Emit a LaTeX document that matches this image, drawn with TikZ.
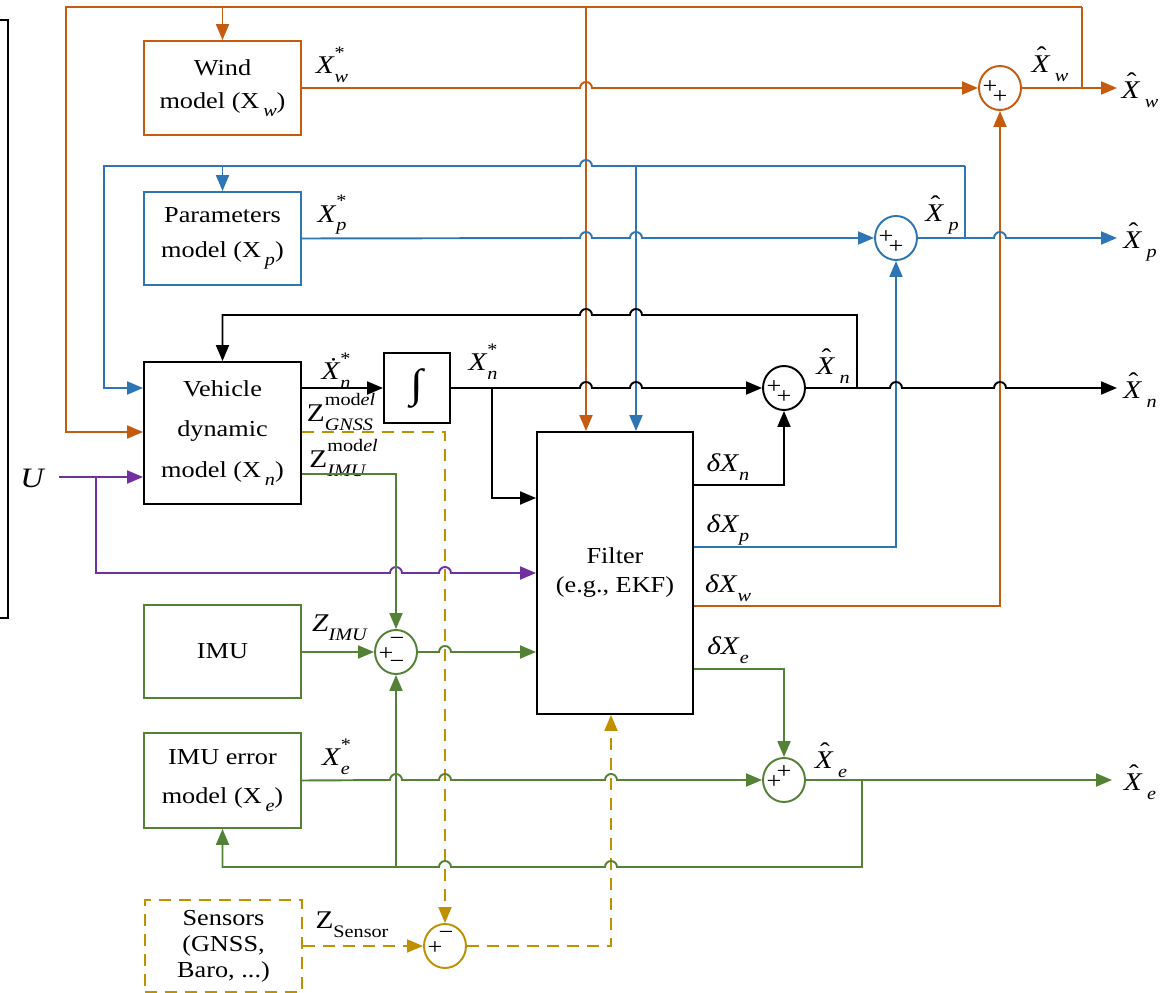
\documentclass[tikz,border=0pt]{standalone}
\usepackage{fontspec}
\setmainfont{Liberation Serif}[FakeStretch=1.15]
\usetikzlibrary{arrows.meta,shapes.geometric,calc}
\definecolor{cor}{HTML}{C55A11}
\definecolor{cbl}{HTML}{2E75B6}
\definecolor{cgr}{HTML}{538135}
\definecolor{cpu}{HTML}{7030A0}
\definecolor{cgo}{HTML}{BF9000}
\newcommand{\hr}[2]{-- ({#1-6},#2) arc[start angle=180,end angle=360,radius=6]}
\newcommand{\hl}[2]{-- ({#1+6},#2) arc[start angle=0,end angle=-180,radius=6]}
\newcommand{\ssz}{\fontsize{10}{10}\selectfont}
\newcommand{\lowsub}[1]{\raisebox{-0.35em}{\ssz #1}}
\newcommand{\sx}[3]{#1\raisebox{-0.35em}{\makebox[0pt][l]{\raisebox{0.95em}{\ssz #2}}\ssz #3}}
\newcommand{\bsub}[1]{\,\raisebox{-0.35em}{\ssz\textit{#1}}}
\newcommand{\hX}{\makebox[0pt][l]{\hspace{0.2em}\raisebox{0.32em}{ˆ}}\textit{X}}
\tikzset{
  ln/.style={line width=1.1pt},
  arr/.style={-{Triangle[length=0.32cm,width=0.26cm]}},
  sor/.style={ln,draw=cor},
  sbl/.style={ln,draw=cbl},
  sgr/.style={ln,draw=cgr},
  spu/.style={ln,draw=cpu},
  sgo/.style={ln,draw=cgo,dash pattern=on 0.24cm off 0.16cm},
  sbk/.style={ln,draw=black},
  box/.style={draw,ln,minimum width=3.14cm,align=center,inner sep=0pt},
  sumn/.style={draw,ln,ellipse,minimum width=0.84cm,minimum height=0.88cm,inner sep=0pt},
  lab/.style={inner sep=0pt,font=\fontsize{14.5}{16}\selectfont},
  sgn/.style={inner sep=0pt,font=\fontsize{13}{13}\selectfont},
}
\begin{document}
\begin{tikzpicture}[x=0.02cm,y=-0.02cm]
\useasboundingbox (0,0) rectangle (1166,993);
% ---------- boxes
\node[box,draw=cor,minimum height=1.88cm,font=\fontsize{13}{19}\selectfont] (wind) at (222.5,88) {Wind\\model (X\bsub{w})};
\node[box,draw=cbl,minimum height=1.86cm,font=\fontsize{13}{20}\selectfont] (params) at (222.5,238.5) {Parameters\\model (X\bsub{p})};
\node[box,draw=black,minimum height=2.84cm,font=\fontsize{13}{23}\selectfont] (vehicle) at (222.5,433) {Vehicle\\dynamic\\model (X\bsub{n})};
\node[box,draw=black,minimum width=1.32cm,minimum height=1.4cm,font=\fontsize{23}{23}\selectfont] (integ) at (417,388) {∫};
\node[box,draw=black,minimum width=3.12cm,minimum height=5.64cm,font=\fontsize{13}{16.5}\selectfont] (filter) at (615,573) {Filter\\(e.g., EKF)};
\node[box,draw=cgr,minimum height=1.86cm,font=\fontsize{13}{15}\selectfont] (imu) at (222.5,651.5) {IMU};
\node[box,draw=cgr,minimum height=1.9cm,font=\fontsize{13}{22.5}\selectfont] (imuerr) at (222.5,780.5) {IMU error\\model (X\bsub{e})};
\node[box,draw=cgo,dash pattern=on 0.24cm off 0.16cm,minimum height=1.84cm,font=\fontsize{13}{14.8}\selectfont] (sensors) at (223.5,946) {Sensors\\(GNSS,\\Baro, ...)};
% ---------- summing junctions
\node[sumn,draw=cor] (sw) at (1000,88) {};
\node[sumn,draw=cbl] (sp) at (896,238) {};
\node[sumn,draw=black] (sn) at (784,388) {};
\node[sumn,draw=cgr] (se) at (784,780) {};
\node[sumn,draw=cgr] (simu) at (396,652) {};
\node[sumn,draw=cgo] (ssen) at (445,946) {};
\node[sgn] (sw1) at ($(sw)+(-10,-1)$) {+};
\node[sgn] (sw2) at ($(sw)+(0,9)$) {+};
\node[sgn] (sp1) at ($(sp)+(-10,-1)$) {+};
\node[sgn] (sp2) at ($(sp)+(0,9)$) {+};
\node[sgn] (sn1) at ($(sn)+(-10,-1)$) {+};
\node[sgn] (sn2) at ($(sn)+(0,9)$) {+};
\node[sgn] (se1) at ($(se)+(-10,2)$) {+};
\node[sgn] (se2) at ($(se)+(0,-8)$) {+};
\node[sgn] (si1) at ($(simu)+(-10,2)$) {+};
\node[sgn] (si2) at ($(simu)+(1,-11)$) {−};
\node[sgn] (si3) at ($(simu)+(1,12)$) {−};
\node[sgn] (ss1) at ($(ssen)+(-10,2)$) {+};
\node[sgn] (ss2) at ($(ssen)+(1,-11)$) {−};
% ---------- labels
\node[lab] (lXw) at (332,65) {\sx{\textit{X}}{*}{\textit{w}}};
\node[lab] (lXp) at (332,215) {\sx{\textit{X}}{*}{\textit{p}}};
\node[lab] (lXnd) at (336,371) {\sx{\textit{Ẋ}}{*}{\textit{n}}};
\node[lab] (lZG) at (340,412) {\sx{Z}{mod\textit{el}}{\textit{GNSS}}};
\node[lab] (lZI) at (338,458) {\sx{Z}{mod\textit{el}}{\textit{IMU}}};
\node[lab] (lXn) at (483,362) {\sx{\textit{X}}{*}{\textit{n}}};
\node[lab] (lZimu) at (340,628) {\textit{Z}\lowsub{\textit{IMU}}};
\node[lab] (lXe) at (336,757) {\sx{\textit{X}}{*}{\textit{e}}};
\node[lab] (lZs) at (352,925) {Z\lowsub{Sensor}};
\node[lab] (hXw) at (1050,64) {\hX\,\lowsub{\textit{w}}};
\node[lab] (hXp) at (942,215) {\hX\,\lowsub{\textit{p}}};
\node[lab] (hXn) at (833,366) {\hX\,\lowsub{\textit{n}}};
\node[lab] (hXe) at (831,760) {\hX\,\lowsub{\textit{e}}};
\node[lab] (oXw) at (1140,90) {\hX\,\lowsub{\textit{w}}};
\node[lab] (oXp) at (1140,242) {\hX\,\lowsub{\textit{p}}};
\node[lab] (oXn) at (1140,390) {\hX\,\lowsub{\textit{n}}};
\node[lab] (oXe) at (1140,782) {\hX\,\lowsub{\textit{e}}};
\node[lab] (dXn) at (728,467) {\textit{δX}\lowsub{\textit{n}}};
\node[lab] (dXp) at (728,530) {\textit{δX}\lowsub{\textit{p}}};
\node[lab] (dXw) at (728,588) {\textit{δX}\lowsub{\textit{w}}};
\node[lab] (dXe) at (728,650) {\textit{δX}\lowsub{\textit{e}}};
\node[lab,font=\fontsize{16}{16}\selectfont] (lU) at (33,478) {\textit{U}};
% ---------- coordinates
\coordinate (oTL) at (66,7);
\coordinate (oTR) at (1082,7);
\coordinate (oV) at (586,7);
\coordinate (oOut) at (1117,88);
\coordinate (bTL) at (104,166);
\coordinate (bTR) at (965,166);
\coordinate (bV) at (636,166);
\coordinate (bOut) at (1117,238);
\coordinate (kTR) at (857,315);
\coordinate (kTL) at (222.5,315);
\coordinate (kJ) at (857,388);
\coordinate (kB) at (492,388);
\coordinate (kOut) at (1117,388);
\coordinate (uS) at (59,477);
\coordinate (pJ) at (96,477);
\coordinate (pB) at (96,573);
\coordinate (gC) at (445,432);
\coordinate (gV) at (611,946);
\coordinate (gJ) at (862,780);
\coordinate (gB) at (862,867);
\coordinate (gBL) at (222.5,867);
\coordinate (gI) at (396,867);
\coordinate (gOut) at (1112,780);
\coordinate (rO) at (0,432);
\coordinate (rB) at (0,388);
\coordinate (rU) at (0,477);
\coordinate (rK) at (0,498);
\coordinate (rP) at (0,573);
\coordinate (rG) at (0,432);
\coordinate (rZ) at (0,474);
\coordinate (rdn) at (0,485);
\coordinate (rdp) at (0,547);
\coordinate (rdw) at (0,606);
\coordinate (rde) at (0,669);
% ---------- left bracket
\draw[sbk] (0,20) -- (8,20) -- (8,618) -- (0,618);
% ---------- orange
\draw[sor,arr] (oTR) -- (oTL) |- (vehicle.west |- rO);
\draw[sor,arr] (wind.north |- oTL) -- (wind.north);
\draw[sor,arr] (oV) -- (oV |- filter.north);
\draw[sor] (oTR) -- (oTR |- sw);
\draw[sor,arr] (wind.east) \hr{586}{88} -- (sw.west);
\draw[sor,arr] (sw.east) -- (oOut);
\draw[sor,arr] (filter.east |- rdw) -| (sw.south);
% ---------- blue
\draw[sbl,arr] (bTR) \hl{586}{166} -- (bTL) |- (vehicle.west |- rB);
\draw[sbl] (bTR) -- (bTR |- sp);
\draw[sbl,arr] (params.north |- bTL) -- (params.north);
\draw[sbl,arr] (bV) -- (bV |- filter.north);
\draw[sbl,arr] (params.east) \hr{586}{238} \hr{636}{238} -- (sp.west);
\draw[sbl,arr] (sp.east) \hr{1000}{238} -- (bOut);
\draw[sbl,arr] (filter.east |- rdp) -| (sp.south);
% ---------- black
\draw[sbk,arr] (kJ) -- (kTR) \hl{636}{315} \hl{586}{315} -- (kTL) -- (vehicle.north);
\draw[sbk,arr] (vehicle.east |- rB) -- (integ.west);
\draw[sbk,arr] (integ.east) \hr{586}{388} \hr{636}{388} -- (sn.west);
\draw[sbk,arr] (kB) |- (filter.west |- rK);
\draw[sbk,arr] (sn.east) \hr{896}{388} \hr{1000}{388} -- (kOut);
\draw[sbk,arr] (filter.east |- rdn) -| (sn.south);
% ---------- purple
\draw[spu,arr] (uS) -- (vehicle.west |- rU);
\draw[spu,arr] (pJ) -- (pB) \hr{396}{573} \hr{445}{573} -- (filter.west |- rP);
% ---------- gold (dashed)
\draw[sgo,arr] (vehicle.east |- rG) -- (gC) -- (ssen.north);
\draw[sgo,arr] (sensors.east |- ssen) -- (ssen.west);
\draw[sgo,arr] (ssen.east) -- (gV) -- (gV |- filter.south);
% ---------- green
\draw[sgr,arr] (vehicle.east |- rZ) -| (simu.north);
\draw[sgr,arr] (imu.east |- simu) -- (simu.west);
\draw[sgr,arr] (simu.east) \hr{445}{652} -- (filter.west |- simu);
\draw[sgr,arr] (imuerr.east) \hr{396}{780} \hr{445}{780} \hr{611}{780} -- (se.west);
\draw[sgr,arr] (se.east) -- (gOut);
\draw[sgr,arr] (gJ) -- (gB) \hl{611}{867} \hl{445}{867} -- (gBL) -- (imuerr.south);
\draw[sgr,arr] (gI) -- (simu.south);
\draw[sgr,arr] (filter.east |- rde) -| (se.north);
\end{tikzpicture}
\end{document}
